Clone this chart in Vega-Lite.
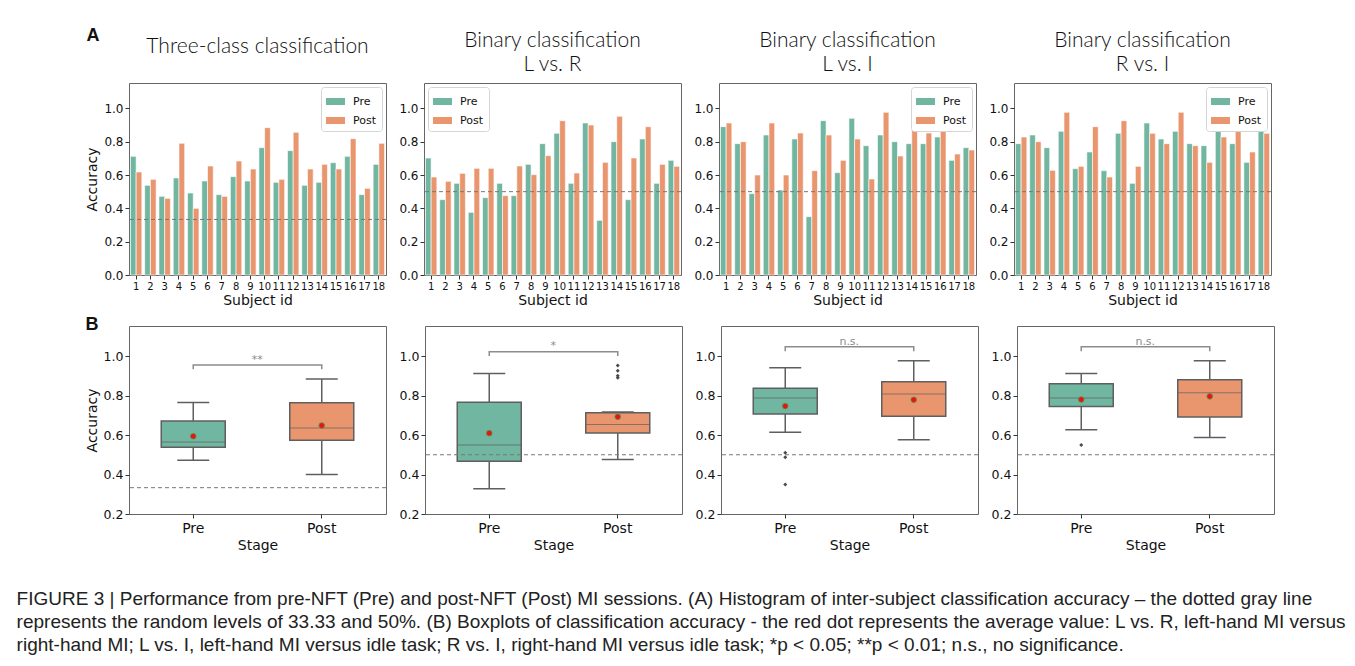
{
"$schema": "https://vega.github.io/schema/vega-lite/v6.json",
"padding": {"left": 16, "top": 26, "right": 5, "bottom": 5},
"background": "white",
"title": {"text": ["FIGURE 3 | Performance from pre-NFT (Pre) and post-NFT (Post) MI sessions. (A) Histogram of inter-subject classification accuracy – the dotted gray line", "represents the random levels of 33.33 and 50%. (B) Boxplots of classification accuracy - the red dot represents the average value: L vs. R, left-hand MI versus", "right-hand MI; L vs. I, left-hand MI versus idle task; R vs. I, right-hand MI versus idle task; *p < 0.05; **p < 0.01; n.s., no significance."], "orient": "bottom", "anchor": "start", "frame": "bounds", "font": "Liberation Sans", "fontSize": 19, "fontWeight": "normal", "lineHeight": 23, "offset": 37, "dx": -68, "color": "#222"},
"datasets": {
"acc": [
{"task":"three","subject":1,"stage":"Pre","acc":0.712},{"task":"three","subject":1,"stage":"Post","acc":0.618},
{"task":"three","subject":2,"stage":"Pre","acc":0.538},{"task":"three","subject":2,"stage":"Post","acc":0.574},
{"task":"three","subject":3,"stage":"Pre","acc":0.472},{"task":"three","subject":3,"stage":"Post","acc":0.46},
{"task":"three","subject":4,"stage":"Pre","acc":0.582},{"task":"three","subject":4,"stage":"Post","acc":0.79},
{"task":"three","subject":5,"stage":"Pre","acc":0.492},{"task":"three","subject":5,"stage":"Post","acc":0.40},
{"task":"three","subject":6,"stage":"Pre","acc":0.564},{"task":"three","subject":6,"stage":"Post","acc":0.654},
{"task":"three","subject":7,"stage":"Pre","acc":0.482},{"task":"three","subject":7,"stage":"Post","acc":0.472},
{"task":"three","subject":8,"stage":"Pre","acc":0.59},{"task":"three","subject":8,"stage":"Post","acc":0.684},
{"task":"three","subject":9,"stage":"Pre","acc":0.564},{"task":"three","subject":9,"stage":"Post","acc":0.636},
{"task":"three","subject":10,"stage":"Pre","acc":0.764},{"task":"three","subject":10,"stage":"Post","acc":0.884},
{"task":"three","subject":11,"stage":"Pre","acc":0.556},{"task":"three","subject":11,"stage":"Post","acc":0.574},
{"task":"three","subject":12,"stage":"Pre","acc":0.746},{"task":"three","subject":12,"stage":"Post","acc":0.856},
{"task":"three","subject":13,"stage":"Pre","acc":0.538},{"task":"three","subject":13,"stage":"Post","acc":0.636},
{"task":"three","subject":14,"stage":"Pre","acc":0.556},{"task":"three","subject":14,"stage":"Post","acc":0.664},
{"task":"three","subject":15,"stage":"Pre","acc":0.674},{"task":"three","subject":15,"stage":"Post","acc":0.636},
{"task":"three","subject":16,"stage":"Pre","acc":0.712},{"task":"three","subject":16,"stage":"Post","acc":0.818},
{"task":"three","subject":17,"stage":"Pre","acc":0.482},{"task":"three","subject":17,"stage":"Post","acc":0.52},
{"task":"three","subject":18,"stage":"Pre","acc":0.664},{"task":"three","subject":18,"stage":"Post","acc":0.79},
{"task":"LR","subject":1,"stage":"Pre","acc":0.702},{"task":"LR","subject":1,"stage":"Post","acc":0.588},
{"task":"LR","subject":2,"stage":"Pre","acc":0.452},{"task":"LR","subject":2,"stage":"Post","acc":0.562},
{"task":"LR","subject":3,"stage":"Pre","acc":0.55},{"task":"LR","subject":3,"stage":"Post","acc":0.61},
{"task":"LR","subject":4,"stage":"Pre","acc":0.376},{"task":"LR","subject":4,"stage":"Post","acc":0.64},
{"task":"LR","subject":5,"stage":"Pre","acc":0.464},{"task":"LR","subject":5,"stage":"Post","acc":0.64},
{"task":"LR","subject":6,"stage":"Pre","acc":0.55},{"task":"LR","subject":6,"stage":"Post","acc":0.476},
{"task":"LR","subject":7,"stage":"Pre","acc":0.476},{"task":"LR","subject":7,"stage":"Post","acc":0.654},
{"task":"LR","subject":8,"stage":"Pre","acc":0.664},{"task":"LR","subject":8,"stage":"Post","acc":0.602},
{"task":"LR","subject":9,"stage":"Pre","acc":0.788},{"task":"LR","subject":9,"stage":"Post","acc":0.716},
{"task":"LR","subject":10,"stage":"Pre","acc":0.85},{"task":"LR","subject":10,"stage":"Post","acc":0.926},
{"task":"LR","subject":11,"stage":"Pre","acc":0.55},{"task":"LR","subject":11,"stage":"Post","acc":0.612},
{"task":"LR","subject":12,"stage":"Pre","acc":0.912},{"task":"LR","subject":12,"stage":"Post","acc":0.9},
{"task":"LR","subject":13,"stage":"Pre","acc":0.328},{"task":"LR","subject":13,"stage":"Post","acc":0.676},
{"task":"LR","subject":14,"stage":"Pre","acc":0.80},{"task":"LR","subject":14,"stage":"Post","acc":0.952},
{"task":"LR","subject":15,"stage":"Pre","acc":0.452},{"task":"LR","subject":15,"stage":"Post","acc":0.702},
{"task":"LR","subject":16,"stage":"Pre","acc":0.816},{"task":"LR","subject":16,"stage":"Post","acc":0.89},
{"task":"LR","subject":17,"stage":"Pre","acc":0.55},{"task":"LR","subject":17,"stage":"Post","acc":0.664},
{"task":"LR","subject":18,"stage":"Pre","acc":0.688},{"task":"LR","subject":18,"stage":"Post","acc":0.652},
{"task":"LI","subject":1,"stage":"Pre","acc":0.89},{"task":"LI","subject":1,"stage":"Post","acc":0.912},
{"task":"LI","subject":2,"stage":"Pre","acc":0.788},{"task":"LI","subject":2,"stage":"Post","acc":0.80},
{"task":"LI","subject":3,"stage":"Pre","acc":0.488},{"task":"LI","subject":3,"stage":"Post","acc":0.60},
{"task":"LI","subject":4,"stage":"Pre","acc":0.84},{"task":"LI","subject":4,"stage":"Post","acc":0.912},
{"task":"LI","subject":5,"stage":"Pre","acc":0.51},{"task":"LI","subject":5,"stage":"Post","acc":0.60},
{"task":"LI","subject":6,"stage":"Pre","acc":0.816},{"task":"LI","subject":6,"stage":"Post","acc":0.852},
{"task":"LI","subject":7,"stage":"Pre","acc":0.35},{"task":"LI","subject":7,"stage":"Post","acc":0.626},
{"task":"LI","subject":8,"stage":"Pre","acc":0.926},{"task":"LI","subject":8,"stage":"Post","acc":0.84},
{"task":"LI","subject":9,"stage":"Pre","acc":0.614},{"task":"LI","subject":9,"stage":"Post","acc":0.688},
{"task":"LI","subject":10,"stage":"Pre","acc":0.94},{"task":"LI","subject":10,"stage":"Post","acc":0.816},
{"task":"LI","subject":11,"stage":"Pre","acc":0.776},{"task":"LI","subject":11,"stage":"Post","acc":0.576},
{"task":"LI","subject":12,"stage":"Pre","acc":0.84},{"task":"LI","subject":12,"stage":"Post","acc":0.976},
{"task":"LI","subject":13,"stage":"Pre","acc":0.80},{"task":"LI","subject":13,"stage":"Post","acc":0.714},
{"task":"LI","subject":14,"stage":"Pre","acc":0.788},{"task":"LI","subject":14,"stage":"Post","acc":0.876},
{"task":"LI","subject":15,"stage":"Pre","acc":0.788},{"task":"LI","subject":15,"stage":"Post","acc":0.852},
{"task":"LI","subject":16,"stage":"Pre","acc":0.828},{"task":"LI","subject":16,"stage":"Post","acc":0.90},
{"task":"LI","subject":17,"stage":"Pre","acc":0.688},{"task":"LI","subject":17,"stage":"Post","acc":0.726},
{"task":"LI","subject":18,"stage":"Pre","acc":0.764},{"task":"LI","subject":18,"stage":"Post","acc":0.75},
{"task":"RI","subject":1,"stage":"Pre","acc":0.788},{"task":"RI","subject":1,"stage":"Post","acc":0.828},
{"task":"RI","subject":2,"stage":"Pre","acc":0.84},{"task":"RI","subject":2,"stage":"Post","acc":0.80},
{"task":"RI","subject":3,"stage":"Pre","acc":0.764},{"task":"RI","subject":3,"stage":"Post","acc":0.628},
{"task":"RI","subject":4,"stage":"Pre","acc":0.862},{"task":"RI","subject":4,"stage":"Post","acc":0.976},
{"task":"RI","subject":5,"stage":"Pre","acc":0.638},{"task":"RI","subject":5,"stage":"Post","acc":0.652},
{"task":"RI","subject":6,"stage":"Pre","acc":0.738},{"task":"RI","subject":6,"stage":"Post","acc":0.89},
{"task":"RI","subject":7,"stage":"Pre","acc":0.626},{"task":"RI","subject":7,"stage":"Post","acc":0.588},
{"task":"RI","subject":8,"stage":"Pre","acc":0.85},{"task":"RI","subject":8,"stage":"Post","acc":0.926},
{"task":"RI","subject":9,"stage":"Pre","acc":0.55},{"task":"RI","subject":9,"stage":"Post","acc":0.652},
{"task":"RI","subject":10,"stage":"Pre","acc":0.912},{"task":"RI","subject":10,"stage":"Post","acc":0.85},
{"task":"RI","subject":11,"stage":"Pre","acc":0.816},{"task":"RI","subject":11,"stage":"Post","acc":0.788},
{"task":"RI","subject":12,"stage":"Pre","acc":0.862},{"task":"RI","subject":12,"stage":"Post","acc":0.976},
{"task":"RI","subject":13,"stage":"Pre","acc":0.788},{"task":"RI","subject":13,"stage":"Post","acc":0.776},
{"task":"RI","subject":14,"stage":"Pre","acc":0.776},{"task":"RI","subject":14,"stage":"Post","acc":0.676},
{"task":"RI","subject":15,"stage":"Pre","acc":0.862},{"task":"RI","subject":15,"stage":"Post","acc":0.828},
{"task":"RI","subject":16,"stage":"Pre","acc":0.788},{"task":"RI","subject":16,"stage":"Post","acc":0.90},
{"task":"RI","subject":17,"stage":"Pre","acc":0.676},{"task":"RI","subject":17,"stage":"Post","acc":0.738},
{"task":"RI","subject":18,"stage":"Pre","acc":0.90},{"task":"RI","subject":18,"stage":"Post","acc":0.85}
],
"chance": [{"task":"three","level":0.3333},{"task":"LR","level":0.5},{"task":"LI","level":0.5},{"task":"RI","level":0.5}],
"brackets": [
{"task":"three","stage":"Pre","y":0.933,"ord":1},{"task":"three","stage":"Pre","y":0.955,"ord":2},{"task":"three","stage":"Post","y":0.955,"ord":3},{"task":"three","stage":"Post","y":0.933,"ord":4},
{"task":"LR","stage":"Pre","y":1.0,"ord":1},{"task":"LR","stage":"Pre","y":1.022,"ord":2},{"task":"LR","stage":"Post","y":1.022,"ord":3},{"task":"LR","stage":"Post","y":1.0,"ord":4},
{"task":"LI","stage":"Pre","y":1.024,"ord":1},{"task":"LI","stage":"Pre","y":1.047,"ord":2},{"task":"LI","stage":"Post","y":1.047,"ord":3},{"task":"LI","stage":"Post","y":1.024,"ord":4},
{"task":"RI","stage":"Pre","y":1.024,"ord":1},{"task":"RI","stage":"Pre","y":1.047,"ord":2},{"task":"RI","stage":"Post","y":1.047,"ord":3},{"task":"RI","stage":"Post","y":1.024,"ord":4}
],
"sig": [{"task":"three","stage":"Pre","y":0.965,"label":"**"},{"task":"LR","stage":"Pre","y":1.035,"label":"*"},{"task":"LI","stage":"Pre","y":1.056,"label":"n.s."},{"task":"RI","stage":"Pre","y":1.056,"label":"n.s."}]
},
"vconcat": [
{
"title": {"text": "A", "anchor": "start", "frame": "bounds", "font": "Liberation Sans", "fontSize": 18, "fontWeight": "bold", "offset": 0, "dy": 15, "dx": 1},
"resolve": {"legend": {"color": "independent"}},
"spacing": 11,
"hconcat": [
{"width": 257, "height": 192, "title": {"text": "Three-class classification", "offset": 26},
 "layer": [
 {"data": {"name": "acc"}, "transform": [{"filter": "datum.task === 'three'"}],
  "mark": {"type": "bar", "stroke": "white", "strokeWidth": 0.6},
  "encoding": {
   "x": {"field": "subject", "type": "ordinal", "scale": {"paddingInner": 0.2, "paddingOuter": 0.1}, "axis": {"labelAngle": 0, "labelFontSize": 10, "labelOverlap": false, "title": "Subject id", "labelPadding": 2, "titlePadding": 2}},
   "xOffset": {"field": "stage", "type": "nominal", "sort": ["Pre", "Post"]},
   "y": {"field": "acc", "type": "quantitative", "title": "Accuracy", "scale": {"domain": [0, 1.152], "nice": false}, "axis": {"values": [0, 0.2, 0.4, 0.6, 0.8, 1.0], "format": ".1f", "labelOverlap": false, "labelFontSize": 12}},
   "color": {"field": "stage", "type": "nominal", "sort": ["Pre", "Post"], "scale": {"domain": ["Pre", "Post"], "range": ["#71b6a0", "#e9966f"]}, "legend": {"orient": "top-right"}}
  }},
 {"data": {"name": "chance"}, "transform": [{"filter": "datum.task === 'three'"}],
  "mark": {"type": "rule", "color": "#777", "strokeDash": [4, 3], "strokeWidth": 1},
  "encoding": {"y": {"field": "level", "type": "quantitative", "title": "Accuracy", "axis": {"values": [0, 0.2, 0.4, 0.6, 0.8, 1.0], "format": ".1f", "labelOverlap": false, "labelFontSize": 12}}}}
 ]},
{"width": 257, "height": 192, "title": {"text": ["Binary classification", "L vs. R"], "offset": 8},
 "layer": [
 {"data": {"name": "acc"}, "transform": [{"filter": "datum.task === 'LR'"}],
  "mark": {"type": "bar", "stroke": "white", "strokeWidth": 0.6},
  "encoding": {
   "x": {"field": "subject", "type": "ordinal", "scale": {"paddingInner": 0.2, "paddingOuter": 0.1}, "axis": {"labelAngle": 0, "labelFontSize": 10, "labelOverlap": false, "title": "Subject id", "labelPadding": 2, "titlePadding": 2}},
   "xOffset": {"field": "stage", "type": "nominal", "sort": ["Pre", "Post"]},
   "y": {"field": "acc", "type": "quantitative", "title": null, "scale": {"domain": [0, 1.152], "nice": false}, "axis": {"values": [0, 0.2, 0.4, 0.6, 0.8, 1.0], "format": ".1f", "labelOverlap": false, "labelFontSize": 12}},
   "color": {"field": "stage", "type": "nominal", "sort": ["Pre", "Post"], "scale": {"domain": ["Pre", "Post"], "range": ["#71b6a0", "#e9966f"]}, "legend": {"orient": "top-left"}}
  }},
 {"data": {"name": "chance"}, "transform": [{"filter": "datum.task === 'LR'"}],
  "mark": {"type": "rule", "color": "#777", "strokeDash": [4, 3], "strokeWidth": 1},
  "encoding": {"y": {"field": "level", "type": "quantitative", "title": null, "axis": {"values": [0, 0.2, 0.4, 0.6, 0.8, 1.0], "format": ".1f", "labelOverlap": false, "labelFontSize": 12}}}}
 ]},
{"width": 257, "height": 192, "title": {"text": ["Binary classification", "L vs. I"], "offset": 8},
 "layer": [
 {"data": {"name": "acc"}, "transform": [{"filter": "datum.task === 'LI'"}],
  "mark": {"type": "bar", "stroke": "white", "strokeWidth": 0.6},
  "encoding": {
   "x": {"field": "subject", "type": "ordinal", "scale": {"paddingInner": 0.2, "paddingOuter": 0.1}, "axis": {"labelAngle": 0, "labelFontSize": 10, "labelOverlap": false, "title": "Subject id", "labelPadding": 2, "titlePadding": 2}},
   "xOffset": {"field": "stage", "type": "nominal", "sort": ["Pre", "Post"]},
   "y": {"field": "acc", "type": "quantitative", "title": null, "scale": {"domain": [0, 1.152], "nice": false}, "axis": {"values": [0, 0.2, 0.4, 0.6, 0.8, 1.0], "format": ".1f", "labelOverlap": false, "labelFontSize": 12}},
   "color": {"field": "stage", "type": "nominal", "sort": ["Pre", "Post"], "scale": {"domain": ["Pre", "Post"], "range": ["#71b6a0", "#e9966f"]}, "legend": {"orient": "top-right"}}
  }},
 {"data": {"name": "chance"}, "transform": [{"filter": "datum.task === 'LI'"}],
  "mark": {"type": "rule", "color": "#777", "strokeDash": [4, 3], "strokeWidth": 1},
  "encoding": {"y": {"field": "level", "type": "quantitative", "title": null, "axis": {"values": [0, 0.2, 0.4, 0.6, 0.8, 1.0], "format": ".1f", "labelOverlap": false, "labelFontSize": 12}}}}
 ]},
{"width": 257, "height": 192, "title": {"text": ["Binary classification", "R vs. I"], "offset": 8},
 "layer": [
 {"data": {"name": "acc"}, "transform": [{"filter": "datum.task === 'RI'"}],
  "mark": {"type": "bar", "stroke": "white", "strokeWidth": 0.6},
  "encoding": {
   "x": {"field": "subject", "type": "ordinal", "scale": {"paddingInner": 0.2, "paddingOuter": 0.1}, "axis": {"labelAngle": 0, "labelFontSize": 10, "labelOverlap": false, "title": "Subject id", "labelPadding": 2, "titlePadding": 2}},
   "xOffset": {"field": "stage", "type": "nominal", "sort": ["Pre", "Post"]},
   "y": {"field": "acc", "type": "quantitative", "title": null, "scale": {"domain": [0, 1.152], "nice": false}, "axis": {"values": [0, 0.2, 0.4, 0.6, 0.8, 1.0], "format": ".1f", "labelOverlap": false, "labelFontSize": 12}},
   "color": {"field": "stage", "type": "nominal", "sort": ["Pre", "Post"], "scale": {"domain": ["Pre", "Post"], "range": ["#71b6a0", "#e9966f"]}, "legend": {"orient": "top-right"}}
  }},
 {"data": {"name": "chance"}, "transform": [{"filter": "datum.task === 'RI'"}],
  "mark": {"type": "rule", "color": "#777", "strokeDash": [4, 3], "strokeWidth": 1},
  "encoding": {"y": {"field": "level", "type": "quantitative", "title": null, "axis": {"values": [0, 0.2, 0.4, 0.6, 0.8, 1.0], "format": ".1f", "labelOverlap": false, "labelFontSize": 12}}}}
 ]}
]
},
{
"title": {"text": "B", "anchor": "start", "frame": "bounds", "font": "Liberation Sans", "fontSize": 18, "fontWeight": "bold", "offset": 0, "dy": 8, "dx": 1},
"spacing": 11,
"hconcat": [
{"width": 257, "height": 188,
 "layer": [
 {"data": {"name": "acc"}, "transform": [{"filter": "datum.task === 'three'"}],
  "mark": {"type": "boxplot", "extent": 1.5, "size": 64, "box": {"stroke": "#5f5f5f", "strokeWidth": 1.5}, "median": {"color": "#5f5f5f", "strokeWidth": 1.5}, "rule": {"color": "#5f5f5f", "strokeWidth": 1.5}, "ticks": {"color": "#5f5f5f", "size": 32, "thickness": 1.5}, "outliers": false},
  "encoding": {
   "x": {"field": "stage", "type": "nominal", "sort": ["Pre", "Post"], "scale": {"domain": ["Pre", "Post"], "paddingInner": 0, "paddingOuter": 0}, "axis": {"labelAngle": 0, "labelFontSize": 14, "title": "Stage", "labelPadding": 3, "titlePadding": 3}},
   "y": {"field": "acc", "type": "quantitative", "title": "Accuracy", "scale": {"domain": [0.2, 1.152], "nice": false, "zero": false}, "axis": {"values": [0.2, 0.4, 0.6, 0.8, 1.0], "format": ".1f", "labelFontSize": 12.5, "labelOverlap": false}},
   "color": {"field": "stage", "type": "nominal", "scale": {"domain": ["Pre", "Post"], "range": ["#71b6a0", "#e9966f"]}, "legend": null}
  }},
 {"data": {"name": "acc"}, "transform": [{"filter": "datum.task === 'three'"}],
  "mark": {"type": "boxplot", "extent": 1.5, "size": 64, "box": false, "median": false, "rule": false, "ticks": false, "outliers": {"shape": "diamond", "size": 16, "color": "#4a4a4a", "filled": true, "opacity": 1}},
  "encoding": {"x": {"field": "stage", "type": "nominal", "sort": ["Pre", "Post"]}, "y": {"field": "acc", "type": "quantitative", "title": "Accuracy"}}},
 {"data": {"name": "chance"}, "transform": [{"filter": "datum.task === 'three'"}],
  "mark": {"type": "rule", "color": "#777", "strokeDash": [4, 3], "strokeWidth": 1},
  "encoding": {"y": {"field": "level", "type": "quantitative", "title": "Accuracy"}}},
 {"data": {"name": "acc"}, "transform": [{"filter": "datum.task === 'three'"}],
  "mark": {"type": "point", "filled": true, "fill": "#ee1111", "stroke": "#4c9a4c", "strokeWidth": 0.8, "size": 32, "opacity": 1},
  "encoding": {"x": {"field": "stage", "type": "nominal", "sort": ["Pre", "Post"]}, "y": {"aggregate": "mean", "field": "acc", "type": "quantitative", "title": "Accuracy"}}},
 {"data": {"name": "brackets"}, "transform": [{"filter": "datum.task === 'three'"}],
  "mark": {"type": "line", "color": "#8c8c8c", "strokeWidth": 1.5},
  "encoding": {"x": {"field": "stage", "type": "nominal", "sort": ["Pre", "Post"]}, "y": {"field": "y", "type": "quantitative", "title": "Accuracy"}, "order": {"field": "ord", "type": "quantitative"}}},
 {"data": {"name": "sig"}, "transform": [{"filter": "datum.task === 'three'"}],
  "mark": {"type": "text", "dx": 64, "color": "#8c8c8c", "fontSize": 11, "baseline": "alphabetic", "font": "DejaVu Sans"},
  "encoding": {"x": {"field": "stage", "type": "nominal", "sort": ["Pre", "Post"]}, "y": {"field": "y", "type": "quantitative", "title": "Accuracy"}, "text": {"field": "label"}}}
 ]},
{"width": 257, "height": 188,
 "layer": [
 {"data": {"name": "acc"}, "transform": [{"filter": "datum.task === 'LR'"}],
  "mark": {"type": "boxplot", "extent": 1.5, "size": 64, "box": {"stroke": "#5f5f5f", "strokeWidth": 1.5}, "median": {"color": "#5f5f5f", "strokeWidth": 1.5}, "rule": {"color": "#5f5f5f", "strokeWidth": 1.5}, "ticks": {"color": "#5f5f5f", "size": 32, "thickness": 1.5}, "outliers": false},
  "encoding": {
   "x": {"field": "stage", "type": "nominal", "sort": ["Pre", "Post"], "scale": {"domain": ["Pre", "Post"], "paddingInner": 0, "paddingOuter": 0}, "axis": {"labelAngle": 0, "labelFontSize": 14, "title": "Stage", "labelPadding": 3, "titlePadding": 3}},
   "y": {"field": "acc", "type": "quantitative", "title": null, "scale": {"domain": [0.2, 1.152], "nice": false, "zero": false}, "axis": {"values": [0.2, 0.4, 0.6, 0.8, 1.0], "format": ".1f", "labelFontSize": 12.5, "labelOverlap": false}},
   "color": {"field": "stage", "type": "nominal", "scale": {"domain": ["Pre", "Post"], "range": ["#71b6a0", "#e9966f"]}, "legend": null}
  }},
 {"data": {"name": "acc"}, "transform": [{"filter": "datum.task === 'LR'"}],
  "mark": {"type": "boxplot", "extent": 1.5, "size": 64, "box": false, "median": false, "rule": false, "ticks": false, "outliers": {"shape": "diamond", "size": 16, "color": "#4a4a4a", "filled": true, "opacity": 1}},
  "encoding": {"x": {"field": "stage", "type": "nominal", "sort": ["Pre", "Post"]}, "y": {"field": "acc", "type": "quantitative", "title": null}}},
 {"data": {"name": "chance"}, "transform": [{"filter": "datum.task === 'LR'"}],
  "mark": {"type": "rule", "color": "#777", "strokeDash": [4, 3], "strokeWidth": 1},
  "encoding": {"y": {"field": "level", "type": "quantitative", "title": null}}},
 {"data": {"name": "acc"}, "transform": [{"filter": "datum.task === 'LR'"}],
  "mark": {"type": "point", "filled": true, "fill": "#ee1111", "stroke": "#4c9a4c", "strokeWidth": 0.8, "size": 32, "opacity": 1},
  "encoding": {"x": {"field": "stage", "type": "nominal", "sort": ["Pre", "Post"]}, "y": {"aggregate": "mean", "field": "acc", "type": "quantitative", "title": null}}},
 {"data": {"name": "brackets"}, "transform": [{"filter": "datum.task === 'LR'"}],
  "mark": {"type": "line", "color": "#8c8c8c", "strokeWidth": 1.5},
  "encoding": {"x": {"field": "stage", "type": "nominal", "sort": ["Pre", "Post"]}, "y": {"field": "y", "type": "quantitative", "title": null}, "order": {"field": "ord", "type": "quantitative"}}},
 {"data": {"name": "sig"}, "transform": [{"filter": "datum.task === 'LR'"}],
  "mark": {"type": "text", "dx": 64, "color": "#8c8c8c", "fontSize": 11, "baseline": "alphabetic", "font": "DejaVu Sans"},
  "encoding": {"x": {"field": "stage", "type": "nominal", "sort": ["Pre", "Post"]}, "y": {"field": "y", "type": "quantitative", "title": null}, "text": {"field": "label"}}}
 ]},
{"width": 257, "height": 188,
 "layer": [
 {"data": {"name": "acc"}, "transform": [{"filter": "datum.task === 'LI'"}],
  "mark": {"type": "boxplot", "extent": 1.5, "size": 64, "box": {"stroke": "#5f5f5f", "strokeWidth": 1.5}, "median": {"color": "#5f5f5f", "strokeWidth": 1.5}, "rule": {"color": "#5f5f5f", "strokeWidth": 1.5}, "ticks": {"color": "#5f5f5f", "size": 32, "thickness": 1.5}, "outliers": false},
  "encoding": {
   "x": {"field": "stage", "type": "nominal", "sort": ["Pre", "Post"], "scale": {"domain": ["Pre", "Post"], "paddingInner": 0, "paddingOuter": 0}, "axis": {"labelAngle": 0, "labelFontSize": 14, "title": "Stage", "labelPadding": 3, "titlePadding": 3}},
   "y": {"field": "acc", "type": "quantitative", "title": null, "scale": {"domain": [0.2, 1.152], "nice": false, "zero": false}, "axis": {"values": [0.2, 0.4, 0.6, 0.8, 1.0], "format": ".1f", "labelFontSize": 12.5, "labelOverlap": false}},
   "color": {"field": "stage", "type": "nominal", "scale": {"domain": ["Pre", "Post"], "range": ["#71b6a0", "#e9966f"]}, "legend": null}
  }},
 {"data": {"name": "acc"}, "transform": [{"filter": "datum.task === 'LI'"}],
  "mark": {"type": "boxplot", "extent": 1.5, "size": 64, "box": false, "median": false, "rule": false, "ticks": false, "outliers": {"shape": "diamond", "size": 16, "color": "#4a4a4a", "filled": true, "opacity": 1}},
  "encoding": {"x": {"field": "stage", "type": "nominal", "sort": ["Pre", "Post"]}, "y": {"field": "acc", "type": "quantitative", "title": null}}},
 {"data": {"name": "chance"}, "transform": [{"filter": "datum.task === 'LI'"}],
  "mark": {"type": "rule", "color": "#777", "strokeDash": [4, 3], "strokeWidth": 1},
  "encoding": {"y": {"field": "level", "type": "quantitative", "title": null}}},
 {"data": {"name": "acc"}, "transform": [{"filter": "datum.task === 'LI'"}],
  "mark": {"type": "point", "filled": true, "fill": "#ee1111", "stroke": "#4c9a4c", "strokeWidth": 0.8, "size": 32, "opacity": 1},
  "encoding": {"x": {"field": "stage", "type": "nominal", "sort": ["Pre", "Post"]}, "y": {"aggregate": "mean", "field": "acc", "type": "quantitative", "title": null}}},
 {"data": {"name": "brackets"}, "transform": [{"filter": "datum.task === 'LI'"}],
  "mark": {"type": "line", "color": "#8c8c8c", "strokeWidth": 1.5},
  "encoding": {"x": {"field": "stage", "type": "nominal", "sort": ["Pre", "Post"]}, "y": {"field": "y", "type": "quantitative", "title": null}, "order": {"field": "ord", "type": "quantitative"}}},
 {"data": {"name": "sig"}, "transform": [{"filter": "datum.task === 'LI'"}],
  "mark": {"type": "text", "dx": 64, "color": "#8c8c8c", "fontSize": 11, "baseline": "alphabetic", "font": "DejaVu Sans"},
  "encoding": {"x": {"field": "stage", "type": "nominal", "sort": ["Pre", "Post"]}, "y": {"field": "y", "type": "quantitative", "title": null}, "text": {"field": "label"}}}
 ]},
{"width": 257, "height": 188,
 "layer": [
 {"data": {"name": "acc"}, "transform": [{"filter": "datum.task === 'RI'"}],
  "mark": {"type": "boxplot", "extent": 1.5, "size": 64, "box": {"stroke": "#5f5f5f", "strokeWidth": 1.5}, "median": {"color": "#5f5f5f", "strokeWidth": 1.5}, "rule": {"color": "#5f5f5f", "strokeWidth": 1.5}, "ticks": {"color": "#5f5f5f", "size": 32, "thickness": 1.5}, "outliers": false},
  "encoding": {
   "x": {"field": "stage", "type": "nominal", "sort": ["Pre", "Post"], "scale": {"domain": ["Pre", "Post"], "paddingInner": 0, "paddingOuter": 0}, "axis": {"labelAngle": 0, "labelFontSize": 14, "title": "Stage", "labelPadding": 3, "titlePadding": 3}},
   "y": {"field": "acc", "type": "quantitative", "title": null, "scale": {"domain": [0.2, 1.152], "nice": false, "zero": false}, "axis": {"values": [0.2, 0.4, 0.6, 0.8, 1.0], "format": ".1f", "labelFontSize": 12.5, "labelOverlap": false}},
   "color": {"field": "stage", "type": "nominal", "scale": {"domain": ["Pre", "Post"], "range": ["#71b6a0", "#e9966f"]}, "legend": null}
  }},
 {"data": {"name": "acc"}, "transform": [{"filter": "datum.task === 'RI'"}],
  "mark": {"type": "boxplot", "extent": 1.5, "size": 64, "box": false, "median": false, "rule": false, "ticks": false, "outliers": {"shape": "diamond", "size": 16, "color": "#4a4a4a", "filled": true, "opacity": 1}},
  "encoding": {"x": {"field": "stage", "type": "nominal", "sort": ["Pre", "Post"]}, "y": {"field": "acc", "type": "quantitative", "title": null}}},
 {"data": {"name": "chance"}, "transform": [{"filter": "datum.task === 'RI'"}],
  "mark": {"type": "rule", "color": "#777", "strokeDash": [4, 3], "strokeWidth": 1},
  "encoding": {"y": {"field": "level", "type": "quantitative", "title": null}}},
 {"data": {"name": "acc"}, "transform": [{"filter": "datum.task === 'RI'"}],
  "mark": {"type": "point", "filled": true, "fill": "#ee1111", "stroke": "#4c9a4c", "strokeWidth": 0.8, "size": 32, "opacity": 1},
  "encoding": {"x": {"field": "stage", "type": "nominal", "sort": ["Pre", "Post"]}, "y": {"aggregate": "mean", "field": "acc", "type": "quantitative", "title": null}}},
 {"data": {"name": "brackets"}, "transform": [{"filter": "datum.task === 'RI'"}],
  "mark": {"type": "line", "color": "#8c8c8c", "strokeWidth": 1.5},
  "encoding": {"x": {"field": "stage", "type": "nominal", "sort": ["Pre", "Post"]}, "y": {"field": "y", "type": "quantitative", "title": null}, "order": {"field": "ord", "type": "quantitative"}}},
 {"data": {"name": "sig"}, "transform": [{"filter": "datum.task === 'RI'"}],
  "mark": {"type": "text", "dx": 64, "color": "#8c8c8c", "fontSize": 11, "baseline": "alphabetic", "font": "DejaVu Sans"},
  "encoding": {"x": {"field": "stage", "type": "nominal", "sort": ["Pre", "Post"]}, "y": {"field": "y", "type": "quantitative", "title": null}, "text": {"field": "label"}}}
 ]}
]
}
],
"spacing": 7,
"config": {
 "font": "DejaVu Sans",
 "view": {"stroke": "#666", "strokeWidth": 1},
 "axis": {"domain": false, "grid": false, "tickColor": "#333", "tickSize": 4, "labelColor": "#111", "titleColor": "#111", "labelFont": "DejaVu Sans", "titleFont": "DejaVu Sans", "titleFontWeight": "normal", "labelFontSize": 12, "titleFontSize": 14, "labelPadding": 2},
 "axisY": {"labelOverlap": false},
 "title": {"font": "Lato", "fontSize": 21, "fontWeight": 300, "lineHeight": 24, "color": "#111", "anchor": "middle"},
 "legend": {"title": null, "fillColor": "white", "strokeColor": "#d5d5d5", "cornerRadius": 3, "padding": 5, "offset": 4, "labelFont": "DejaVu Sans", "labelFontSize": 11, "labelColor": "#111", "labelOffset": 8, "symbolType": "M-1,-0.37H1V0.37H-1Z", "symbolSize": 361, "symbolStrokeWidth": 0, "symbolOpacity": 1, "rowPadding": 4}
}
}
